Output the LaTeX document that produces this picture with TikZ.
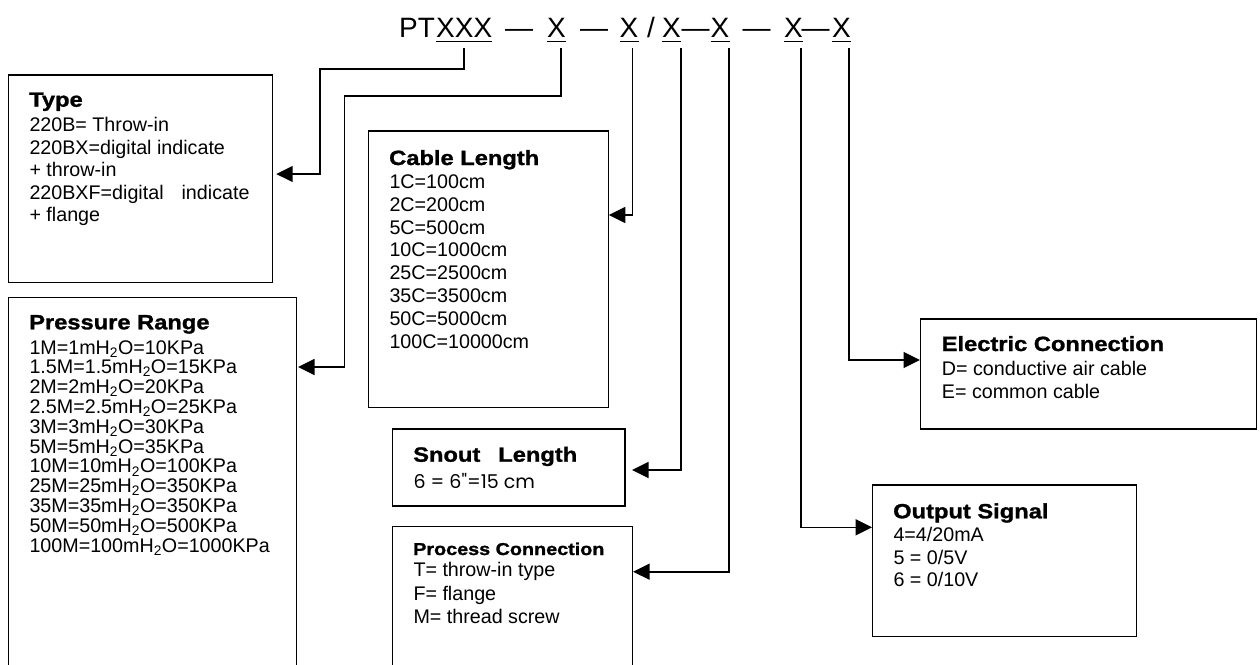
\documentclass[tikz,border=0pt]{standalone}
\usepackage{fontspec}
\setmainfont{Liberation Sans}
\newfontfamily\ttlfont[FakeStretch=1.15,BoldFeatures={FakeBold=1.3}]{Liberation Sans}
\newfontfamily\snoutfont{Poppins}
\usetikzlibrary{arrows.meta}
\tikzset{
  boxst/.style={draw, line width=1.3pt, inner sep=0pt, outer sep=0pt, anchor=north west},
  txt/.style={anchor=base west, inner sep=0pt, font=\fontsize{19.7}{22}\selectfont},
  ttl/.style={anchor=base west, inner sep=0pt, font=\ttlfont\bfseries\fontsize{20.6}{24}\selectfont},
  ttlsmall/.style={anchor=base west, inner sep=0pt, font=\ttlfont\bfseries\fontsize{17.2}{20}\selectfont},
  code/.style={anchor=base west, inner sep=0pt, font=\fontsize{28}{32}\selectfont},
  uline/.style={line width=1.3pt},
  conn/.style={line width=1.6pt, -{Triangle[length=16.5pt,width=16pt]}},
}
\newcommand\tlines[5]{%
  \foreach \t [count=\i from 0] in {#5}{%
    \node[txt] (#1\i) at (#2,{#3+\i*#4}) {\t};
  }%
}
\begin{document}
\begin{tikzpicture}[x=1pt,y=-1pt]
\clip (0,0) rectangle (1260,664);
\fill[white] (0,0) rectangle (1260,664);

% code line
\node[code] (pt) at (399,37) {PT};
\node[code] (x1) at (436,37) {XXX};
\node[code] (d1) at (505,37) {—};
\node[code] (x2) at (547,37) {X};
\node[code] (d2) at (580,37) {—};
\node[code] (x3) at (619.5,37) {X};
\node[code] (sl) at (647,37) {/};
\node[code] (x4) at (662,37) {X};
\node[code] (d3) at (681.5,37) {—};
\node[code] (x5) at (710.5,37) {X};
\node[code] (d4) at (742.5,37) {—};
\node[code] (x6) at (784,37) {X};
\node[code] (d5) at (801.5,37) {—};
\node[code] (x7) at (832,37) {X};
\foreach \n in {x1,x2,x3,x4,x5,x6,x7}{
  \draw[uline] ([yshift=-4.7pt]\n.base west) -- ([yshift=-4.7pt]\n.base east);
}

% boxes
\node[boxst, minimum width=264.4pt, minimum height=207.7pt] (tbox) at (8.3,75) {};
\node[boxst, minimum width=288.4pt, minimum height=420pt] (pbox) at (8.3,297.5) {};
\node[boxst, minimum width=239.8pt, minimum height=276.3pt] (cbox) at (368.5,131) {};
\node[boxst, minimum width=232.7pt, minimum height=77pt] (sbox) at (392.3,429) {};
\node[boxst, minimum width=240pt, minimum height=200pt] (prbox) at (392.3,526.7) {};
\node[boxst, minimum width=336pt, minimum height=110pt] (ebox) at (920.7,319) {};
\node[boxst, minimum width=264pt, minimum height=151.7pt] (obox) at (872.7,485) {};

% titles
\node[ttl] (tt) at (29,106.7) {Type};
\node[ttl] (pt2) at (29,329.3) {Pressure Range};
\node[ttl] (ct) at (389,165) {Cable Length};
\node[ttl] (st) at (413,461.7) {Snout\hspace{18pt}Length};
\node[ttlsmall] (prt) at (413,555) {Process Connection};
\node[ttl] (et) at (941.5,351) {Electric Connection};
\node[ttl] (ot) at (893,518.3) {Output Signal};

% body texts
\tlines{tl}{29.3}{131.7}{22.5}{220B= Throw-in,220BX=digital indicate,+ throw-in,220BXF=digital\hspace{18pt}indicate,+ flange}
\tlines{pl}{29.3}{354}{19.83}{1M=1mH\textsubscript{2}O=10KPa,1.5M=1.5mH\textsubscript{2}O=15KPa,2M=2mH\textsubscript{2}O=20KPa,2.5M=2.5mH\textsubscript{2}O=25KPa,3M=3mH\textsubscript{2}O=30KPa,5M=5mH\textsubscript{2}O=35KPa,10M=10mH\textsubscript{2}O=100KPa,25M=25mH\textsubscript{2}O=350KPa,35M=35mH\textsubscript{2}O=350KPa,50M=50mH\textsubscript{2}O=500KPa,100M=100mH\textsubscript{2}O=1000KPa}
\tlines{cl}{389.3}{188.3}{22.86}{1C=100cm,2C=200cm,5C=500cm,10C=1000cm,25C=2500cm,35C=3500cm,50C=5000cm,100C=10000cm}
\node[anchor=base west, inner sep=0pt, font=\snoutfont\fontsize{19}{22}\selectfont] (sl0) at (413.3,488.3) {6 = 6"=15 cm};
\tlines{prl}{413.3}{576.7}{23.3}{T= throw-in type,F= flange,M= thread screw}
\tlines{el}{941.7}{375}{23.3}{D= conductive air cable,E= common cable}
\tlines{ol}{893.3}{541.7}{22.5}{4=4/20mA,5 = 0/5V,6 = 0/10V}

% connectors
\coordinate (c1) at (464,48);
\coordinate (c2) at (561,48);
\coordinate (c3) at (632.3,48);
\coordinate (c4) at (680.7,48);
\coordinate (c5) at (729,48);
\coordinate (c6) at (800.7,48);
\coordinate (c7) at (849,48);
\draw[conn] (c1) |- (320,69) |- ([xshift=3.5pt]tbox.east |- 0,174);
\draw[conn] (c2) |- (344.3,96) |- ([xshift=1.3pt]pbox.east |- 0,367);
\draw[conn] (c3) |- ([xshift=0.6pt]cbox.east |- 0,215);
\draw[conn] (c4) |- ([xshift=7pt]sbox.east |- 0,470);
\draw[conn] (c5) |- ([xshift=0.8pt]prbox.east |- 0,571.7);
\draw[conn] (c6) |- ([xshift=-0.7pt]obox.west |- 0,527.3);
\draw[conn] (c7) |- ([xshift=-0.7pt]ebox.west |- 0,360);
\end{tikzpicture}
\end{document}
